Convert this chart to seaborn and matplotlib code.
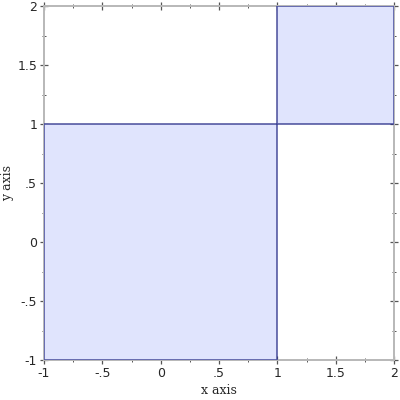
import matplotlib
matplotlib.use("Agg")
import matplotlib.pyplot as plt
import seaborn as sns
from matplotlib.patches import Rectangle
from matplotlib.ticker import MultipleLocator, FuncFormatter

# Rectangle data
x_min = [-1, 1]
x_max = [1, 2]
y_min = [-1, 1]
y_max = [1, 2]

x_range = (-1, 2)
y_range = (-1, 2)

sns.set_style("white")
plt.rcParams['font.family'] = ['DejaVu Sans']

fig = plt.figure(figsize=(4, 4), dpi=100)
ax = fig.add_axes([44/400, 40/400, 350/400, 354/400])

face = (0.878, 0.894, 0.992)
edge = (0.18, 0.2, 0.55, 0.8)
for x0, x1, y0, y1 in zip(x_min, x_max, y_min, y_max):
    ax.add_patch(Rectangle((x0, y0), x1 - x0, y1 - y0, facecolor=face,
                           edgecolor=edge, linewidth=1.2, zorder=2))

ax.set_xlim(*x_range)
ax.set_ylim(*y_range)

def fmt(v, pos):
    if abs(v - round(v)) < 1e-9:
        return str(int(round(v)))
    s = f"{v:g}"
    return s.replace("0.", ".")

for axis in (ax.xaxis, ax.yaxis):
    axis.set_major_locator(MultipleLocator(0.5))
    axis.set_minor_locator(MultipleLocator(0.25))
    axis.set_major_formatter(FuncFormatter(fmt))

ax.tick_params(which='both', direction='inout', top=True, right=True,
               bottom=True, left=True, color='#555555', labelsize=9, pad=2)
ax.tick_params(which='major', length=6, width=0.9)
ax.tick_params(which='minor', length=3, width=0.7)

for sp in ax.spines.values():
    sp.set_color('#b8b8b8')
    sp.set_linewidth(1.4)
    sp.set_zorder(1)

ax.set_xlabel("x axis", family='DejaVu Serif', fontsize=9, va='center')
ax.set_ylabel("y axis", family='DejaVu Serif', fontsize=9, va='center')
ax.xaxis.set_label_coords(0.5 - 0.0 , (360 - 391) / 354)
ax.yaxis.set_label_coords((8 - 44) / 350, 0.5)

fig.savefig("out.png", dpi=100)
